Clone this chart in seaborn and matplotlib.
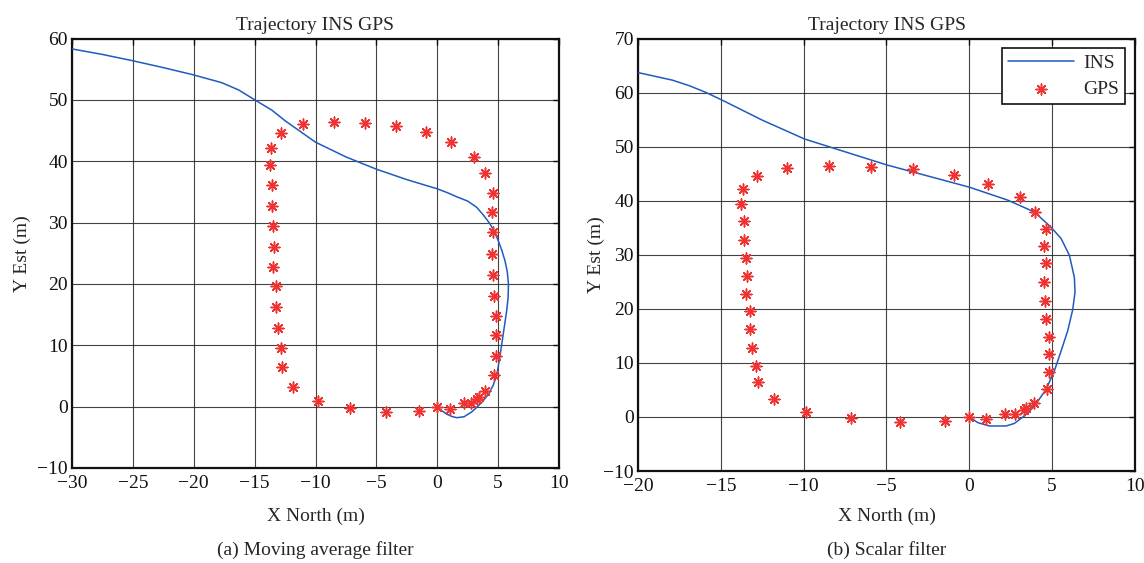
import numpy as np
import pandas as pd
import matplotlib
matplotlib.use("Agg")
import matplotlib.pyplot as plt
import seaborn as sns

# ---------------- data ----------------
gps_x = [-11.0, -8.5, -5.95, -3.38, -0.9, 1.15, 3.03, 3.95, 4.6, 4.48, 4.6, 4.48, 4.57,
         4.65, 4.81, 4.81, 4.81, 4.66, 3.89, 3.4, 3.3, 2.78, 2.16, 1.03, 0.0, -1.47, -4.2,
         -7.15, -9.83, -11.82, -12.75, -12.87, -13.12, -13.21, -13.21, -13.48, -13.42,
         -13.47, -13.59, -13.59, -13.77, -13.65, -12.82]
gps_y = [46.0, 46.4, 46.25, 45.8, 44.8, 43.15, 40.75, 38.0, 34.8, 31.7, 28.4, 24.9, 21.5,
         18.05, 14.85, 11.65, 8.3, 5.2, 2.62, 1.6, 1.2, 0.6, 0.6, -0.46, 0.0, -0.72, -0.86,
         -0.14, 0.85, 3.27, 6.4, 9.5, 12.75, 16.28, 19.68, 22.78, 26.06, 29.4, 32.75, 36.2,
         39.35, 42.1, 44.6]

ins_a_x = [0.0, 0.4, 0.8, 1.2, 1.6, 2.2, 2.8, 3.2, 3.7, 4.2, 4.6, 4.9, 5.1, 5.3, 5.5, 5.7,
           5.82, 5.85, 5.75, 5.56, 5.3, 5.0, 4.7, 4.33, 3.8, 3.23, 2.5, 1.6, 0.8, 0.0,
           -2.5, -5.0, -7.5, -10.0, -12.5, -13.57, -15.07, -16.3, -17.7, -20.08,
           -22.6, -25.07, -27.5, -30.0]
ins_a_y = [0.0, -0.7, -1.25, -1.6, -1.8, -1.65, -0.9, -0.2, 0.8, 2.0, 3.5, 5.3, 7.6, 10.2,
           12.9, 15.6, 17.8, 20.0, 22.0, 23.8, 25.5, 27.1, 28.5, 29.8, 31.2, 32.5, 33.5,
           34.2, 34.9, 35.5, 37.0, 38.7, 40.7, 43.1, 46.6, 48.3, 50.1, 51.6, 52.8, 54.1,
           55.3, 56.4, 57.4, 58.3]

ins_b_x = [0.0, 0.51, 1.21, 2.22, 2.72, 3.32, 3.93, 4.63, 5.13, 5.54, 5.94, 6.24, 6.38,
           6.34, 6.04, 5.54, 4.93, 3.93, 2.32, 0.0, -4.97, -9.94, -12.5, -14.92,
           -15.92, -16.93, -17.93, -20.0]
ins_b_y = [0.0, -1.05, -1.67, -1.67, -1.2, 0.19, 2.0, 5.1, 8.5, 12.2, 15.95, 19.85, 23.1,
           25.8, 29.9, 33.0, 35.1, 37.9, 40.1, 42.5, 46.6, 51.4, 54.9, 58.6,
           60.05, 61.3, 62.3, 63.7]

panels = [
    dict(ins_x=ins_a_x, ins_y=ins_a_y, xlim=(-30, 10), ylim=(-10, 60),
         xticks=list(range(-30, 11, 5)), yticks=list(range(-10, 61, 10)),
         caption="(a) Moving average filter", legend=False, ylab_px=22),
    dict(ins_x=ins_b_x, ins_y=ins_b_y, xlim=(-20, 10), ylim=(-10, 70),
         xticks=list(range(-20, 11, 5)), yticks=list(range(-10, 71, 10)),
         caption="(b) Scalar filter", legend=True, ylab_px=596),
]

# ---------------- style ----------------
sns.set_style("white")
plt.rcParams["font.family"] = ["Liberation Serif", "DejaVu Serif"]
plt.rcParams["axes.unicode_minus"] = True

W, H = 1144, 563
fig = plt.figure(figsize=(W / 100, H / 100), dpi=100)
boxes = [(72, 559, 38.5, 468), (638, 1135, 38.5, 471)]

ins_color = "#1f5bbf"
gps_color = "#ee3333"
FS = 14

for (x0, x1, y0, y1), p in zip(boxes, panels):
    rect = [x0 / W, (H - y1) / H, (x1 - x0) / W, (y1 - y0) / H]
    ax = fig.add_axes(rect)
    ins_df = pd.DataFrame({"x": p["ins_x"], "y": p["ins_y"]})
    gps_df = pd.DataFrame({"x": gps_x, "y": gps_y})
    sns.lineplot(data=ins_df, x="x", y="y", sort=False, estimator=None, ax=ax,
                 color=ins_color, linewidth=1.1, label="INS", zorder=3)
    sns.scatterplot(data=gps_df, x="x", y="y", ax=ax, marker=(8, 2, 0), s=60,
                    color=gps_color, edgecolor=gps_color, linewidth=1.1,
                    label="GPS", zorder=4)
    ax.set_xlim(*p["xlim"])
    ax.set_ylim(*p["ylim"])
    ax.set_xticks(p["xticks"])
    ax.set_yticks(p["yticks"])
    ax.grid(True, color="#222222", linewidth=0.8, linestyle="-", alpha=0.85)
    ax.set_axisbelow(True)
    for s in ax.spines.values():
        s.set_color("#111111")
        s.set_linewidth(1.6)
    ax.tick_params(direction="in", length=4, width=1, labelsize=FS,
                   colors="#111111", top=True, right=True)
    ax.tick_params(axis="x", pad=5)
    ax.tick_params(axis="y", pad=3)
    ax.set_title("Trajectory INS GPS", fontsize=FS, pad=6)
    ax.set_xlabel("X North (m)", fontsize=FS)
    ax.set_ylabel("Y Est (m)", fontsize=FS)
    ax.xaxis.label.set_va("center")
    ax.xaxis.set_label_coords(0.5, -(516 - y1) / (y1 - y0))
    ax.yaxis.label.set_va("center")
    ax.yaxis.set_label_coords(-(x0 - p["ylab_px"]) / (x1 - x0), 0.5)
    if p["legend"]:
        leg = ax.legend(loc="upper right", fontsize=FS, frameon=True,
                        fancybox=False, framealpha=1, edgecolor="#111111",
                        borderpad=0.3, handlelength=3.4, labelspacing=0.45,
                        borderaxespad=0.5, handletextpad=0.5)
        leg.get_frame().set_linewidth(1.2)
    elif ax.get_legend() is not None:
        ax.get_legend().remove()
    cx = (x0 + x1) / 2 / W
    fig.text(cx, 1 - 550 / H, p["caption"], ha="center", va="center", fontsize=FS)

fig.savefig("out.png", dpi=100)
